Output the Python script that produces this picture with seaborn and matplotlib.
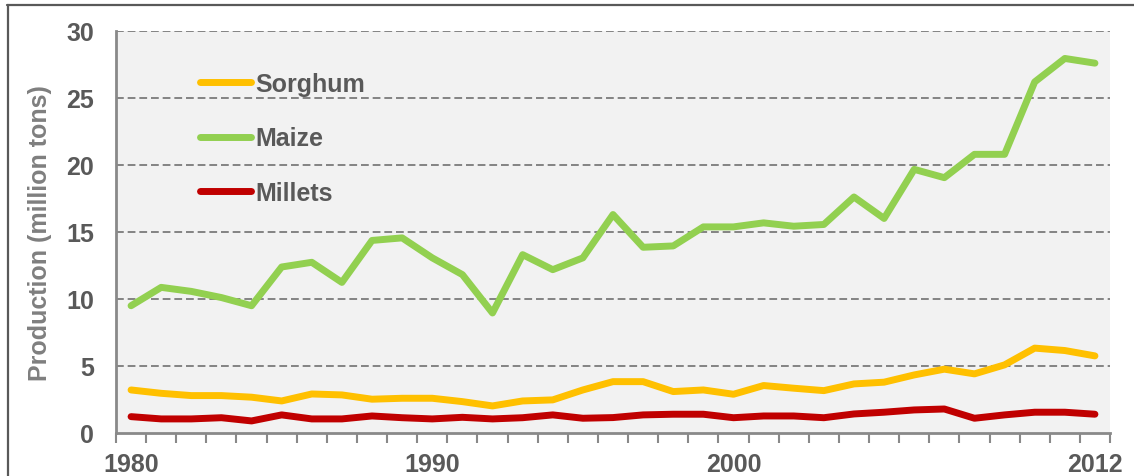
import numpy as np
import pandas as pd
import matplotlib
matplotlib.use("Agg")
import matplotlib.pyplot as plt
from matplotlib.lines import Line2D
import seaborn as sns

# Annual cereal production, million tons
years = list(range(1980, 2013))
sorghum = [3.21, 2.96, 2.79, 2.79, 2.67, 2.39, 2.91, 2.84, 2.52, 2.59, 2.59,
           2.34, 2.02, 2.39, 2.47, 3.21, 3.83, 3.83, 3.09, 3.21, 2.89, 3.54,
           3.34, 3.16, 3.66, 3.79, 4.33, 4.76, 4.41, 5.08, 6.33, 6.15, 5.75]
maize = [9.49, 10.86, 10.56, 10.10, 9.49, 12.38, 12.73, 11.23, 14.36, 14.55,
         13.06, 11.81, 8.95, 13.30, 12.18, 13.06, 16.29, 13.85, 13.95, 15.37,
         15.37, 15.67, 15.42, 15.55, 17.60, 16.00, 19.66, 19.04, 20.78, 20.78,
         26.18, 27.93, 27.58]
millets = [1.22, 1.05, 1.05, 1.14, 0.90, 1.35, 1.05, 1.05, 1.27, 1.14, 1.05,
           1.17, 1.05, 1.14, 1.35, 1.10, 1.15, 1.35, 1.40, 1.40, 1.14, 1.27,
           1.27, 1.14, 1.42, 1.55, 1.72, 1.79, 1.10, 1.35, 1.55, 1.55, 1.40]
crops = ["Sorghum", "Maize", "Millets"]
colors = ["#FFC000", "#92D050", "#C00000"]
year_labels = ["1980", "1990", "2000", "2012"]
y_ticks = [0, 5, 10, 15, 20, 25, 30]

df = pd.DataFrame({
    "pos": list(range(len(years))) * 3,
    "value": sorghum + maize + millets,
    "crop": np.repeat(crops, len(years)),
})

sns.set_theme(style="white")
plt.rcParams["font.family"] = ["Liberation Sans", "DejaVu Sans"]
plt.rcParams["font.weight"] = "bold"

text_dark = "#595959"
axis_grey = "#898989"
fs = 18

fig = plt.figure(figsize=(11.34, 4.77), dpi=100)
ax = fig.add_axes([116 / 1134, 1 - 434 / 477, 994 / 1134, 402.3 / 477])
ax.set_facecolor("#F2F2F2")

sns.lineplot(data=df, x="pos", y="value", hue="crop", hue_order=crops,
             palette=dict(zip(crops, colors)), linewidth=5, ax=ax,
             sort=False, zorder=3)
for ln in ax.get_lines():
    ln.set_solid_capstyle("round")
    ln.set_solid_joinstyle("round")

ax.set_xlim(-0.5, len(years) - 0.5)
ax.set_ylim(0, 30)

# category axis: labels at selected years, tick marks between categories
label_pos = [years.index(int(y)) for y in year_labels]
ax.set_xticks(label_pos)
ax.set_xticklabels(year_labels)
ax.set_xticks(np.arange(-0.5, len(years)), minor=True)
ax.tick_params(axis="x", which="major", length=0, pad=14,
               labelsize=fs, labelcolor=text_dark)
ax.tick_params(axis="x", which="minor", length=7, width=1.5,
               color=axis_grey, direction="out", bottom=True)

ax.set_yticks(y_ticks)
ax.tick_params(axis="y", length=0, pad=16, labelsize=fs,
               labelcolor=text_dark)
for lab in ax.get_xticklabels() + ax.get_yticklabels():
    lab.set_fontweight("bold")

ax.grid(False)
for v in y_ticks[1:]:
    ax.axhline(v, color="#848484", linewidth=1.4, linestyle=(0, (4, 2)),
               zorder=1)

for side in ["top", "right"]:
    ax.spines[side].set_visible(False)
for side in ["left", "bottom"]:
    ax.spines[side].set_color(axis_grey)
    ax.spines[side].set_linewidth(2)

ax.set_xlabel("")
ax.set_ylabel("Production (million tons)", fontsize=fs,
              fontweight="bold", color="#7F7F7F")
ax.yaxis.set_label_coords(-0.064, 0.5)

leg = ax.legend(loc="upper left", bbox_to_anchor=(0.0845, 0.8975),
                frameon=False, fontsize=fs, handlelength=2.05,
                handletextpad=0.16, labelspacing=1.22, borderpad=0,
                borderaxespad=0)
for t in leg.get_texts():
    t.set_color(text_dark)
    t.set_fontweight("bold")
for h in leg.get_lines():
    h.set_linewidth(5)
    h.set_solid_capstyle("round")

# outer frame
fig.add_artist(Line2D([7 / 1134, 1], [1 - 5.5 / 477, 1 - 5.5 / 477],
                      transform=fig.transFigure, color="#595959", lw=1.6))
fig.add_artist(Line2D([7.5 / 1134, 7.5 / 1134], [0, 1 - 5.5 / 477],
                      transform=fig.transFigure, color="#595959", lw=1.6))

fig.savefig("out.png", dpi=100)
